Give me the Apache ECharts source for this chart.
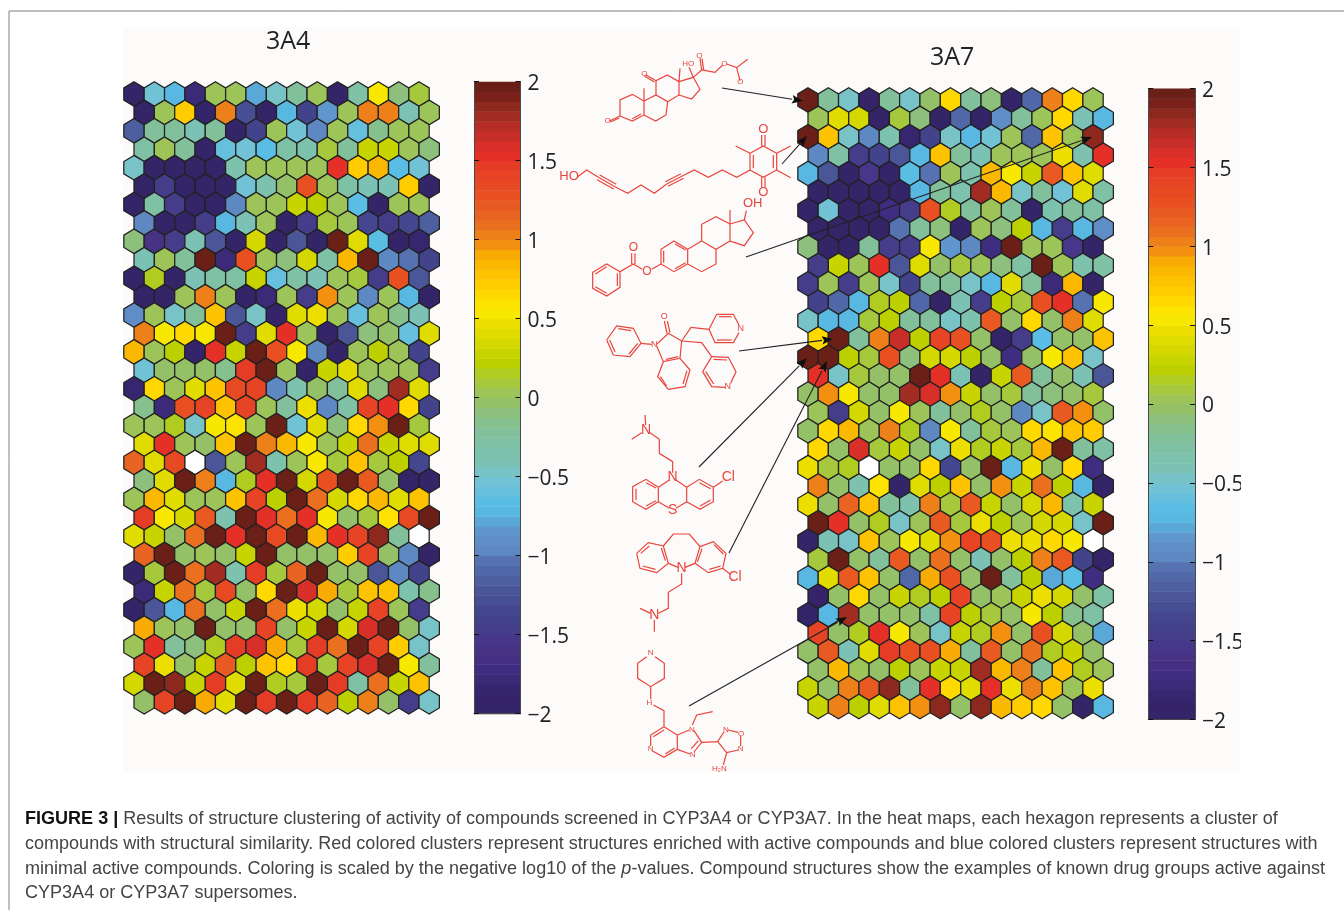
<!DOCTYPE html>
<html>
<head>
<meta charset="utf-8">
<style>html,body{margin:0;padding:0;background:#fff}#c{width:1344px;height:910px}</style>
<script src="https://cdn.jsdelivr.net/npm/echarts@6/dist/echarts.min.js"></script>
</head>
<body>
<div id="c"></div>
<script>
// Values, row by row (null = empty cell)
const values3A4 = [
[-2,-0.55,-0.75,-1.8,0,0,-0.8,-0.45,-0.25,0,-2,-0.3,0.5,-0.1,0.1],
[-2,0.05,0.7,-2,1.05,-1.3,-2,-0.7,-1.4,-0.85,0.05,1,1,-0.4,0],
[-1.15,-0.25,-0.25,-0.4,-0.25,-2,-1.4,0,-0.55,-0.95,0,-0.6,-0.15,0,0],
[-0.3,0.05,-0.2,-2,-0.6,-0.55,-0.65,-0.3,-0.35,0.08,-0.25,0.25,0.25,0,-0.1],
[-0.5,-2,-2,-2,-2,-0.35,0.05,0,0,0,1.5,0.72,0.85,-0.65,-0.55],
[-2,-1.5,-2,-2,-2,-0.55,-0.35,-0.05,1.3,0.05,-0.3,-0.4,-0.4,0.72,-2],
[-2,-0.3,-1.5,-2,-2,-1,0,0,0.25,0.22,0.05,-0.65,-2,0,0.05],
[-0.95,-2,-2,-1.5,-0.7,-0.4,0,-1.95,-1.45,0.08,0.02,-1.35,-1.45,-1.35,-1.15],
[-0.1,-1.6,-1.5,-0.42,-1.25,-2,0.32,-2,-1.25,-2,2,0.42,-0.65,-2,-1.85],
[-0.4,0.02,-0.25,2,-1.8,1.3,0,-0.1,0.35,-0.3,0.85,2,-0.95,-1.05,-1.4],
[-2,0.18,-2,-0.4,-0.3,-0.3,0.28,-0.6,-0.3,-0.4,0.02,0.08,-1.45,1.3,-1.25],
[-2,-2,0,1.05,0,-2,-1.8,0,-1.5,0.95,0,-1,0,-0.7,-2],
[-0.9,0,-0.5,-0.2,0.78,-1.25,-0.45,-1.9,0.4,0.45,0.02,-0.6,0,-0.15,-0.4],
[1.05,0.5,0.65,0.5,2,-1.45,0.42,1.5,0,-2,-1.25,-0.1,-0.05,-0.6,0.38],
[0.85,0,0.2,-1.9,1.55,0.25,1.95,1.3,0.5,-1,-2,0,0.22,0,-1.4],
[-0.55,-0.02,-0.02,-0.02,-0.15,1.45,2,0,-1.95,0.25,0.42,0,0,0,-1.45],
[-1.85,0.65,0,0.4,0.75,1.35,1.38,-1,-0.35,-0.05,-0.2,0.38,-0.1,1.8,0.4],
[-0.15,-1.8,1.3,1.38,0.78,1.38,0,-0.2,0.48,-0.95,-0.3,1.38,1.5,0.65,-1.4],
[0,0,0.15,-0.45,0.5,0.62,0,2,-0.55,0.38,-0.1,0.65,0.95,2,0.08],
[0.4,1.5,0,-0.02,0.75,2,1,0.85,0.5,0.03,0.25,1.1,0.28,0.4,0.4],
[1.15,0.38,1.35,null,-1.2,0.03,1.8,-0.35,0,0.5,0.1,0.75,0.1,0.22,-1.35],
[-0.1,0.38,2,1.05,-0.7,0.15,1.5,1.95,0.35,1.3,2,1.2,-0.02,-2,-2],
[0,0.85,0.42,0,0,0.75,1.38,0.2,2,1.1,0.35,0.65,0.85,0.38,0.75],
[1.45,0.5,0.35,1.2,-0.35,2,1.5,1.1,1.5,0.5,-0.05,0.12,0.62,1.35,2],
[0.42,0.28,-0.05,1.1,2,1.5,2,1.35,2,0.82,1.5,1.38,1.85,-0.2,null],
[1.15,2,-0.02,0.05,-0.05,0.3,2,-0.05,-0.05,-0.05,0.7,1.42,-0.02,-1,-2],
[-2,0.12,2,1.1,1.8,-0.35,1.45,0.08,1.15,2,-0.05,-0.05,-1.25,-1,-1.4],
[-1.8,0.25,1.1,0.08,1.35,-0.05,0.65,2,1.6,0.9,0.12,0.78,0.75,-0.35,-0.15],
[-2,-1.25,-0.7,1.1,-0.05,0.25,2,1.12,0.48,0.35,-0.02,0.3,1.38,0,-1.45],
[0.9,0,-0.02,2,-0.02,-0.05,1.38,-0.05,0.3,2,0.32,1.6,2,-0.02,-0.45],
[0.05,1.5,-0.25,-0.1,0.15,1.48,1.6,0.88,0.12,1.48,1.1,2,1.38,0.72,-0.45],
[1.38,0.48,-0.05,0.3,1.2,0.22,0.78,0.68,1.48,0.1,1.38,1.6,2,0.5,-0.2],
[0.32,2,1.85,0.3,1.48,0.42,2,0.18,0.08,2,1.48,-0.3,1.1,0.3,0.78],
[-0.05,1.38,2,0.88,0.38,2,1.48,2,1.48,1.15,0.22,1,-0.05,-1.5,-0.5]
];
const values3A7 = [
[2,-0.25,-0.45,-1.9,-0.25,-0.5,-0.02,0.68,-0.2,-0.1,-1.95,-1.1,1.05,0.65,0],
[0.02,0.42,0.32,-2,0.1,-0.1,-2,-1.1,-2,-0.9,-0.2,0.02,0.65,-0.42,-0.75],
[2,0.75,-0.5,-1,-0.35,-1.85,-1.4,-0.5,-0.72,-0.52,0,-1.1,0.75,0,1.85],
[-0.95,-0.3,-1.45,-1.4,-1.2,-0.75,0.78,-0.25,-0.42,0,0.03,0.05,0.48,-0.35,1.5],
[-0.72,-1.25,-2,-1.55,-2,-0.65,-1.05,0,-0.35,0.85,0.5,0.3,1.2,0.75,0.38],
[-2,-2,-2,-2,-2,-0.75,-0.25,-0.35,1.75,0.85,-0.45,-0.2,-0.55,0.38,-0.3],
[-2,-0.55,-2,-2,-1.7,-1.5,1.28,0.15,-0.25,0,-0.2,-2,-0.35,-0.25,-0.3],
[-2,-2,-2,-2,-1.05,-0.2,-0.1,-2,0,-0.1,0.2,-0.72,-1.5,-0.72,-0.9],
[-0.1,-2,-2,-0.2,-1.5,-1.5,0.5,-0.85,-0.95,-1.75,2,0.03,0,-1.55,-2],
[-1.45,0.25,0,1.5,-1.25,0.38,-0.02,0.12,0,-0.1,-0.3,2,0,-0.35,-0.3],
[-1.45,0,-1.5,0,-0.5,-1.4,-0.25,-0.25,-0.48,-0.72,0.38,-0.2,-1.8,0.85,-2],
[-1.4,-1.1,-0.75,0.15,0.22,-1.1,-2,-0.4,-1.5,0.22,0.12,1.25,1.5,-1.05,0.5],
[-0.45,-0.72,-0.72,0.1,0.22,-0.25,-0.25,-0.5,-0.35,1.2,-0.02,0.68,-0.05,1,0.4],
[0.65,2,-0.2,1,1.65,0.2,1.42,1.25,-0.02,-2,-1.5,-0.68,-0.02,-0.05,0.75],
[2,2,0.2,0.1,1.28,-0.1,0.35,0.32,0.22,-0.05,-1.75,-0.05,0.5,0.75,-0.45],
[1.5,-0.5,0.08,-0.05,-0.05,2,1.55,-0.4,-2,0.25,1.2,-0.2,-0.05,-0.42,-1.2],
[-0.02,0.95,0.5,-0.02,-0.05,1.75,1.6,0.95,0.3,-0.05,0.08,-0.2,-0.1,-0.05,0.08],
[0,-1.45,0.35,-0.05,0.5,0,-0.2,-0.05,0.15,-0.05,-1,-0.48,1.2,0.98,-0.05],
[-0.02,0.65,0.85,0,1,0.18,-0.98,0.5,-0.25,0.1,0,0.65,0.62,0.8,0.7],
[0.65,-0.02,1.6,0.1,0.25,-0.02,-0.45,0.48,0.18,0.25,0.1,0.85,2,-0.2,-0.3],
[0.45,0.1,0.18,null,-0.05,-0.05,0.68,-1.35,-0.05,2,-0.72,0.47,-0.05,0.65,-1.7],
[1,-0.05,-0.35,0.62,-2,0.42,0.2,0.75,-0.02,0.95,0.28,1.1,0.2,-0.75,-2],
[0.48,-0.05,1.15,0.75,-0.2,-0.35,1,0.08,1.2,0.28,-0.05,0.32,0.85,-0.35,0.25],
[2,1.5,-0.05,0.18,-0.45,0.05,1.2,0.08,0.48,0.2,0.02,0.32,0.35,-0.45,2],
[-2,-0.4,-0.45,0.75,0.03,0.5,0.38,0.95,1.42,1.3,0.48,0.46,0.65,0.5,null],
[0.1,2,-0.05,-0.25,1.2,-0.02,1.1,-0.05,-0.38,-0.05,0.2,1.05,1.22,-1.4,-1.9],
[-0.75,0.42,1.2,0.75,-0.05,-1.1,0.92,1.28,-0.05,2,-0.25,0.2,-0.78,-0.65,-1.7],
[-1.9,-0.05,0.65,-0.05,0.3,0.15,0.2,1.42,-0.05,0.05,0.25,0.45,0.33,-0.05,-0.3],
[-2,-0.72,1.8,-0.05,-0.05,-0.05,-0.3,1.42,0.2,0.1,-0.02,0.5,0.2,-0.15,-0.28],
[1.4,-0.05,0.15,1.55,0.5,0,-0.48,0.3,0.15,0.95,-0.02,1.25,0.33,-0.05,-0.8],
[-0.05,1.2,-0.42,0.38,1.45,1.25,1.3,0.88,-0.2,1.22,-0.05,1.1,0.15,0.25,-0.05],
[-0.05,0.82,0,-0.05,0.2,0,0.28,0.3,1.8,0.85,1.02,-0.2,0.75,0.18,0],
[0.3,-0.05,1.05,1.2,1.85,-0.2,1.55,0.65,0.4,1.5,0.48,1,0.8,0,0.48],
[0.28,1,0.2,0.4,0.75,0.95,1.85,-0.05,1.85,0.85,0.7,0.65,-0.02,-2,-0.72]
];
// The 64 colour-bar bands, from -2 up to 2
const colourBands = [
'#342468','#352469','#36266f','#3a2a78','#3e2d80','#452f83','#473384','#46378a',
'#453d8a','#43438c','#44478e','#474f94','#4a5698','#4d5f9f','#5068a8','#5672b0',
'#5d88c2','#5f8dc6','#5f96cd','#5aa8d8','#58b8e2','#5abde3','#66c0dd','#72c2d6',
'#78c3c8','#7cc2b4','#7dc2ac','#7fc1a4','#82c09c','#86c08c','#8cc07c','#94c168',
'#9cc458','#a6c83c','#b0cc20','#bcd000','#c8d400','#d4d800','#e0dc00','#ecdf00',
'#f8e800','#fde400','#ffd800','#ffcc00','#fdc300','#fbb800','#f8ab05','#f49010',
'#ee801a','#ea7020','#e96322','#e85a22','#e85022','#e74a22','#e64424','#e53c26',
'#e53028','#d83028','#c82e28','#b82c26','#a02c22','#8c281e','#7a221a','#6a1f17'
];
const captionLines = [
'{b|FIGURE 3 |} {t|Results of structure clustering of activity of compounds screened in CYP3A4 or CYP3A7. In the heat maps, each hexagon represents a cluster of}',
'{t|compounds with structural similarity. Red colored clusters represent structures enriched with active compounds and blue colored clusters represent structures with}',
'{t|minimal active compounds. Coloring is scaled by the negative log10 of the }{i|p}{t|-values. Compound structures show the examples of known drug groups active against}',
'{t|CYP3A4 or CYP3A7 supersomes.}'
];

function bandColour(v) {
  if (v == null || isNaN(v)) return '#ffffff';
  return colourBands[Math.max(0, Math.min(63, Math.floor((v + 2) / 4 * 64)))];
}
function toCells(rows) {
  const out = [];
  rows.forEach((r, ri) => r.forEach((v, ci) => out.push([ci, ri, v])));
  return out;
}
const hexOffsets = [[0,-2/3],[0.5,-1/3],[0.5,1/3],[0,2/3],[-0.5,1/3],[-0.5,-1/3]];
function renderHex(params, api) {
  const row = api.value(1), col = api.value(0) + (row % 2 ? 0.5 : 0);
  const pts = hexOffsets.map(o => api.coord([col + o[0], row + o[1]]));
  return {type:'polygon', shape:{points:pts},
    style:{fill:bandColour(api.value(2)), stroke:'#222222', lineWidth:1.25}};
}
function renderBand(params, api) {
  const i = api.value(0);
  const a = api.coord([0, -2 + i / 16]), b = api.coord([1, -2 + (i + 1) / 16]);
  return {type:'rect', shape:{x:a[0], y:b[1], width:b[0]-a[0], height:a[1]-b[1]+0.5},
    style:{fill:colourBands[i]}};
}
const bandData = colourBands.map((c, i) => [i]);

function hexAxes(gi){
  return {
    x:{type:'value', gridIndex:gi, min:-1, max:16, show:false},
    y:{type:'value', gridIndex:gi, min:-1, max:34, inverse:true, show:false}
  };
}
function barYAxes(gi){
  const base = {type:'value', gridIndex:gi, min:-2, max:2, interval:0.5, z:5,
    axisLine:{show:true, onZero:false, lineStyle:{color:'#4a4a4a', width:1}},
    axisTick:{show:true, inside:true, length:5, lineStyle:{color:'#111', width:1}},
    splitLine:{show:false}};
  return [
    Object.assign({}, base, {position:'right',
      axisLabel:{show:true, margin:7, verticalAlign:'top', lineHeight:5, color:'#222', fontFamily:'Open Sans', fontSize:21,
        formatter:v => String(v).replace('-', '\u2212')}}),
    Object.assign({}, base, {position:'left', axisLabel:{show:false}})
  ];
}
function barXAxis(gi){
  return {type:'value', gridIndex:gi, min:0, max:1, z:5,
    axisLine:{show:true, onZero:false, lineStyle:{color:'#4a4a4a', width:1}},
    axisTick:{show:false}, axisLabel:{show:false}, splitLine:{show:false}};
}

// --- hand-drawn annotation artwork (structures and arrows) ---
const RED = '#e8453c';
function mol(ox, oy, lines, labels) {
  const els = [];
  lines.forEach(l => els.push({type:'polyline', silent:true, z:6,
    shape:{points:l.map(p => [ox + p[0]/3, oy + p[1]/3])},
    style:{stroke:RED, lineWidth:1.2, fill:null}}));
  labels.forEach(t => els.push({type:'text', silent:true, z:7,
    x:ox + t[1]/3, y:oy + t[2]/3,
    style:{text:t[0], fill:RED, font:(t[3]||11)+'px "Liberation Sans"', align:'center', verticalAlign:'middle'}}));
  return els;
}
function arrow(x1, y1, x2, y2) {
  const a = Math.atan2(y2-y1, x2-x1), L = 11, W = 4.2;
  const bx = x2 - L*Math.cos(a), by = y2 - L*Math.sin(a);
  const nx = -Math.sin(a), ny = Math.cos(a);
  return [
    {type:'line', silent:true, z:20, shape:{x1,y1,x2:bx,y2:by}, style:{stroke:'#222', lineWidth:1.1}},
    {type:'polygon', silent:true, z:20, shape:{points:[[x2,y2],[bx+nx*W,by+ny*W],[bx+2*Math.cos(a),by+2*Math.sin(a)],[bx-nx*W,by-ny*W]]}, style:{fill:'#111'}}
  ];
}
const artwork = [
  {type:'rect', silent:true, z:0, shape:{x:123,y:27,width:1117,height:745}, style:{fill:'#fdfafa'}},
  {type:'line', silent:true, z:0, shape:{x1:9,y1:11,x2:1344,y2:11}, style:{stroke:'#808080', lineWidth:1}},
  {type:'line', silent:true, z:0, shape:{x1:9,y1:11,x2:9,y2:910}, style:{stroke:'#808080', lineWidth:1}},
  {type:'rect', silent:true, z:30, shape:{x:1241,y:27,width:103,height:745}, style:{fill:'#ffffff'}},
  // corticosteroid
  ...mol(555,40,[
    [[195,228],[195,180],[232,163],[267,183],[267,225],[232,243],[195,228]],
    [[258,222],[232,236]],[[195,228],[163,243]],[[193,234],[166,246]],
    [[267,183],[303,165],[338,185],[333,225],[302,243],[267,225]],
    [[303,165],[303,122],[337,105],[372,125],[372,165],[338,185]],
    [[372,125],[415,112],[435,148],[410,177],[372,165]],
    [[303,122],[272,104]],[[298,126],[268,108]],[[267,183],[267,145]],[[372,125],[375,85]],
    [[415,112],[402,82]],[[415,112],[440,90],[480,97],[503,75]],[[440,90],[435,55]],[[446,90],[441,55]],
    [[515,72],[545,83],[578,58]],[[545,83],[555,122]]
  ],[['O',268,102,8],['HO',400,72,8],['O',433,46,8],['O',508,70,8],['O',556,124,8],['O',158,243,8]]),
  // quinone
  ...mol(555,40,[
    [[68,410],[95,390],[130,412]],[[130,412],[180,440]],[[134,405],[184,433]],[[126,419],[176,447]],
    [[180,440],[218,460],[258,435],[298,460],[335,432]],[[335,432],[382,408]],[[331,425],[378,401]],[[339,439],[386,415]],
    [[382,408],[418,390],[460,412],[502,390],[545,412],[585,390]],
    [[585,390],[585,340],[625,318],[665,340],[665,390],[625,412],[585,390]],
    [[595,345],[595,385]],[[655,345],[655,385]],[[620,318],[620,285]],[[630,318],[630,285]],
    [[620,412],[620,443]],[[630,412],[630,443]],[[585,340],[542,318]],[[665,340],[707,318]],[[665,390],[707,413]]
  ],[['HO',42,409,13],['O',625,268,13],['O',625,458,13]]),
  // estradiol benzoate
  ...mol(555,40,[
    [[525,552],[568,540],[595,578],[568,617],[525,603],[525,552]],
    [[525,552],[483,530],[440,553],[440,603],[483,628],[525,603]],
    [[568,540],[574,512]],[[525,552],[525,510]],
    [[440,603],[398,628],[398,672],[440,695],[483,672],[483,628]],
    [[398,628],[357,603],[318,628],[318,672],[357,695],[398,672]],
    [[360,612],[392,630]],[[326,632],[326,668]],[[360,686],[392,668]],
    [[318,672],[290,688]],[[262,688],[235,672],[195,695],[195,742],[155,768],[113,745],[113,697],[155,672],[195,695]],
    [[230,672],[230,640]],[[240,672],[240,640]],[[187,700],[187,738]],[[155,760],[121,740]],[[121,702],[155,680]]
  ],[['OH',593,491,13],['O',276,694,12],['O',235,623,12]]),
  // indolinone
  ...mol(555,40,[
    [[155,900],[185,858],[235,865],[258,910],[225,950],[175,945],[155,900]],[[190,866],[228,872]],[[164,900],[180,936]],[[222,942],[248,910]],
    [[258,910],[290,913]],[[305,913],[340,880],[380,903],[375,955],[325,965],[305,918]],
    [[325,965],[308,1010],[340,1048],[390,1040],[405,990],[375,955]],[[335,1038],[316,1010]],[[384,1032],[396,992]],[[333,958],[370,950]],
    [[336,880],[328,843]],[[345,878],[337,843]],
    [[380,903],[408,862],[462,868]],[[462,868],[485,823],[535,823],[552,855]],[[552,878],[535,908],[480,908],[462,868]],[[492,830],[530,830]],[[486,900],[530,900]],
    [[380,903],[440,908],[470,950]],[[470,950],[443,995],[470,1040],[510,1042]],[[527,1030],[543,995],[520,952],[470,950]],[[476,958],[516,960]],[[476,1032],[452,995]],
  ],[['N',298,913,9],['O',328,830,9],['N',557,866,9],['N',518,1040,9]]),
  // phenothiazine
  ...mol(590,400,[
    [[165,45],[167,75]],[[125,118],[155,98]],[[180,98],[208,118],[208,160],[248,185],[248,218]],
    [[205,262],[168,238],[128,260],[128,305],[168,328],[205,305],[205,262]],[[138,266],[138,300]],[[168,248],[198,264]],[[168,318],[198,302]],
    [[205,262],[238,240]],[[258,240],[290,262],[290,305]],[[205,305],[238,325]],[[258,325],[290,305]],
    [[290,262],[328,238],[370,262],[370,305],[330,328],[290,305]],[[328,248],[362,266]],[[362,300],[330,318]],[[370,262],[398,243]]
  ],[['N',168,90,14],['N',248,232,14],['S',248,330,14],['Cl',415,232,14]]),
  // clomipramine
  ...mol(590,400,[
    [[140,460],[175,428],[220,438],[235,490],[200,518],[150,505],[140,460]],[[152,460],[178,438]],[[158,498],[196,508]],[[226,482],[214,444]],
    [[220,438],[250,402],[298,402],[330,440]],
    [[330,440],[370,425],[408,460],[398,505],[355,518],[315,490],[330,440]],[[372,434],[400,462]],[[392,498],[358,508]],[[322,486],[336,446]],
    [[235,490],[265,502]],[[285,502],[315,490]],[[398,505],[420,522]],
    [[275,520],[275,552],[235,577],[235,625],[205,640]],[[150,625],[182,640]],[[193,660],[193,695]]
  ],[['N',275,505,14],['Cl',435,532,14],['N',193,645,14]]),
  // bottom structure
  ...mol(590,400,[
    [[170,770],[143,790],[143,835],[182,860],[223,835],[223,790],[195,770]],[[182,860],[182,898]],
    [[190,915],[222,932],[222,980]],[[222,980],[182,1005],[182,1038]],[[186,1052],[222,1072],[262,1048],[262,1005],[222,980]],
    [[190,1010],[222,990]],[[226,1062],[254,1044]],
    [[262,1005],[298,990]],[[312,992],[335,1027],[312,1056]],[[300,1062],[262,1048]],[[304,1046],[325,1022]],
    [[307,975],[320,945],[368,935]],[[335,1027],[383,1025]],
    [[383,1025],[402,996]],[[414,990],[444,997]],[[452,1008],[452,1038]],[[445,1050],[410,1058],[383,1025]],[[410,1058],[400,1095]]
  ],[['N',182,758,8],['H',178,908,8],['N',182,1046,8],['N',306,988,8],['N',308,1064,8],['N',408,990,8],['O',453,1000,8],['N',452,1047,8],['H\u2082N',388,1107,8]]),
  // arrows
  ...arrow(722,88,803,101),
  ...arrow(782,164,807,136),
  ...arrow(746,257,1092,137),
  ...arrow(739,351,833,339),
  ...arrow(699,467,807,358),
  ...arrow(729,553,827,361),
  ...arrow(689,706,847,617)
];

const bars1 = barYAxes(2), bars2 = barYAxes(3);
const hexA = hexAxes(0), hexB = hexAxes(1);
const chart = echarts.init(document.getElementById('c'), null, {renderer:'canvas', width:1344, height:910});
const captionFont = {fontFamily:'Liberation Sans', fontSize:18.05, lineHeight:24.7};
chart.setOption({
  animation:false,
  backgroundColor:'#ffffff',
  title:[
    {left:20, top:802, z:30, text:captionLines.join('\n'),
      textStyle:Object.assign({}, captionFont, {fontWeight:'normal',
        rich:{
          b:Object.assign({}, captionFont, {fontWeight:'bold', color:'#111'}),
          t:Object.assign({}, captionFont, {fontWeight:'normal', color:'#444'}),
          i:Object.assign({}, captionFont, {fontWeight:'normal', fontStyle:'italic', color:'#444'})
        }})},
    {text:'3A4', left:261, top:24, textStyle:{fontFamily:'Open Sans', fontSize:25, fontWeight:'normal', color:'#222'}},
    {text:'3A7', left:925, top:40, textStyle:{fontFamily:'Open Sans', fontSize:25, fontWeight:'normal', color:'#222'}}
  ],
  grid:[
    {left:113.64, top:75.58, width:346.1, height:644.7},
    {left:787.64, top:81.62, width:346.1, height:643.3},
    {left:474, top:81.7, width:46.5, height:632},
    {left:1148.3, top:88.5, width:46.7, height:631}
  ],
  xAxis:[hexA.x, hexB.x, barXAxis(2), barXAxis(3)],
  yAxis:[hexA.y, hexB.y, bars1[0], bars1[1], bars2[0], bars2[1]],
  series:[
    {type:'custom', name:'3A4', xAxisIndex:0, yAxisIndex:0, z:2, clip:false, silent:true, renderItem:renderHex, data:toCells(values3A4)},
    {type:'custom', name:'3A7', xAxisIndex:1, yAxisIndex:1, z:2, clip:false, silent:true, renderItem:renderHex, data:toCells(values3A7)},
    {type:'custom', name:'3A4 colour bar', xAxisIndex:2, yAxisIndex:2, z:2, silent:true, renderItem:renderBand, data:bandData},
    {type:'custom', name:'3A7 colour bar', xAxisIndex:3, yAxisIndex:4, z:2, silent:true, renderItem:renderBand, data:bandData}
  ],
  graphic:{elements:artwork}
});
</script>
</body>
</html>
